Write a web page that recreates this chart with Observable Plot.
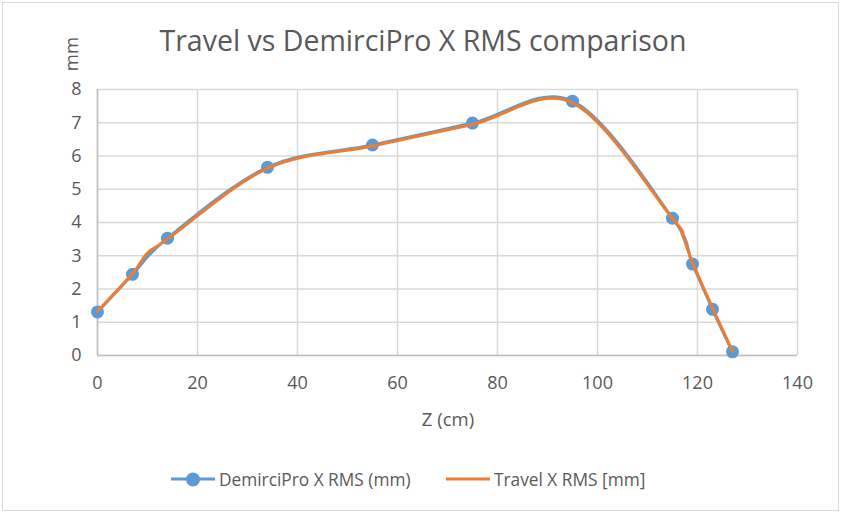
<!DOCTYPE html>
<html>
<head>
<meta charset="utf-8">
<script src="https://cdn.jsdelivr.net/npm/d3@7"></script>
<script src="https://cdn.jsdelivr.net/npm/@observablehq/plot@0.6"></script>
<style>
  html, body { margin: 0; padding: 0; background: #fff; }
  #wrap { position: relative; width: 842px; height: 515px; font-family: "Open Sans", sans-serif; color: #595959; overflow: hidden; }
  #frame { position: absolute; left: 2px; top: 2px; width: 837px; height: 509px; border: 1.5px solid #d9d9d9; box-sizing: border-box; }
  #title { position: absolute; left: 0; width: 846px; top: 21px; text-align: center; font-size: 28.5px; white-space: nowrap; }
  #ylab { position: absolute; left: 70px; top: 54px; transform: translate(-50%, -50%) rotate(-90deg); font-size: 18.5px; }
  #xlab { position: absolute; left: 448px; top: 418px; transform: translate(-50%, -50%); font-size: 18.5px; white-space: nowrap; }
  .leg { position: absolute; top: 479px; transform: translateY(-50%); font-size: 17.3px; white-space: nowrap; display: flex; align-items: center; }
  .sw { position: relative; width: 44px; height: 3px; margin-right: 4px; }
  .dot { position: absolute; left: 15px; top: -5.5px; width: 14px; height: 14px; border-radius: 50%; background: #5b9bd5; }
  #plot { position: absolute; left: 0; top: 0; }
</style>
</head>
<body>
<div id="wrap">
  <div id="plot"></div>
  <div id="frame"></div>
  <div id="title">Travel vs DemirciPro X RMS comparison</div>
  <div id="ylab">mm</div>
  <div id="xlab">Z (cm)</div>
  <div class="leg" style="left:171px"><div class="sw" style="background:#5b9bd5"><div class="dot"></div></div>DemirciPro X RMS (mm)</div>
  <div class="leg" style="left:446px"><div class="sw" style="background:#ed7d31"></div>Travel X RMS [mm]</div>
</div>
<script>
const demirciZ = [0, 7, 14, 34, 55, 75, 95, 115, 119, 123, 127];
const demirciRMS = [1.31, 2.44, 3.53, 5.66, 6.33, 6.99, 7.65, 4.13, 2.75, 1.39, 0.11];
const travelZ = [0, 7, 10, 14, 34, 55, 75, 95, 115, 117, 119, 123, 127];
const travelRMS = [1.33, 2.46, 3.08, 3.5, 5.63, 6.3, 6.95, 7.6, 4.12, 3.62, 2.8, 1.43, 0.13];
const xTicks = [0, 20, 40, 60, 80, 100, 120, 140];
const yTicks = [0, 1, 2, 3, 4, 5, 6, 7, 8];

const demirci = demirciZ.map((z, i) => ({z, v: demirciRMS[i]}));
const travel = travelZ.map((z, i) => ({z, v: travelRMS[i]}));

const chart = Plot.plot({
  width: 842,
  height: 515,
  marginLeft: 97,
  marginRight: 45,
  marginTop: 89,
  marginBottom: 160,
  style: { fontFamily: "Open Sans, sans-serif", fontSize: "18px", color: "#595959", background: "transparent" },
  x: { domain: [0, 140], ticks: xTicks, label: null },
  y: { domain: [0, 8], ticks: yTicks, label: null },
  marks: [
    Plot.gridX(xTicks, { stroke: "#d9d9d9", strokeOpacity: 1, strokeWidth: 1.5 }),
    Plot.gridY(yTicks, { stroke: "#d9d9d9", strokeOpacity: 1, strokeWidth: 1.5 }),
    Plot.ruleX([0], { stroke: "#bfbfbf", strokeWidth: 1.5 }),
    Plot.ruleY([0], { stroke: "#bfbfbf", strokeWidth: 1.5 }),
    Plot.axisX(xTicks, { tickSize: 0, tickPadding: 21, fill: "#595959", label: null }),
    Plot.axisY(yTicks, { tickSize: 0, tickPadding: 16, fill: "#595959", label: null }),
    Plot.line(demirci, { x: "z", y: "v", stroke: "#5b9bd5", strokeWidth: 3, curve: "cardinal" }),
    Plot.dot(demirci, { x: "z", y: "v", r: 6.5, fill: "#5b9bd5", stroke: "none" }),
    Plot.line(travel, { x: "z", y: "v", stroke: "#ed7d31", strokeWidth: 3, curve: "cardinal" })
  ]
});
document.getElementById("plot").appendChild(chart);
</script>
</body>
</html>
